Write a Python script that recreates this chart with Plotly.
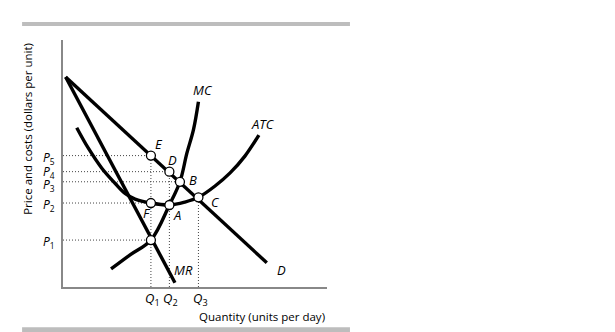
import plotly.graph_objects as go

# ---- data (in chart units) ----
X_MAX = 10.0
Y_MAX = 10.0

demand_q = [0.10, 7.72]
demand_p = [8.50, 0.98]

mr_q = [0.10, 4.24]
mr_p = [8.50, 0.17]

mc_q = [1.82, 2.54, 3.33, 4.03, 4.43, 4.69, 4.94, 5.13]
mc_p = [0.73, 1.30, 1.90, 3.32, 4.26, 5.41, 6.36, 7.50]

atc_q = [0.52, 0.96, 1.47, 1.97, 2.35, 2.73, 3.33, 4.03, 4.62, 5.13, 5.76, 6.33, 6.89, 7.42]
atc_p = [6.45, 5.62, 4.81, 4.20, 3.79, 3.56, 3.40, 3.32, 3.44, 3.63, 4.09, 4.62, 5.30, 6.15]

# key points
pt_names = ["E", "D", "B", "C", "F", "A", "G"]
pt_q = [3.33, 4.03, 4.43, 5.13, 3.33, 4.03, 3.33]
pt_p = [5.32, 4.67, 4.26, 3.63, 3.40, 3.32, 1.90]

# price levels and where their dotted guides end
price_labels = ["5", "4", "3", "2", "1"]
price_vals = [5.32, 4.67, 4.26, 3.40, 1.90]
price_guide_end = [3.33, 4.03, 4.43, 3.33, 3.33]

# quantity levels and where their dotted guides start
qty_labels = ["1", "2", "3"]
qty_vals = [3.33, 4.03, 5.13]
qty_guide_top = [5.32, 4.67, 3.63]

# point label positions
lab_text = ["E", "D", "B", "C", "F", "A", "MC", "ATC", "MR", "D"]
lab_q = [3.65, 4.16, 4.91, 5.76, 3.19, 4.33, 5.31, 7.58, 4.55, 8.28]
lab_p = [5.78, 5.14, 4.33, 3.45, 2.98, 2.91, 7.98, 6.60, 0.69, 0.69]

FONT = "Open Sans"
DOT = "1px,2px"
fig = go.Figure()

# dotted guides
for v, e in zip(price_vals, price_guide_end):
    fig.add_trace(go.Scatter(x=[0, e], y=[v, v], mode="lines",
                             line=dict(color="#444", width=1, dash=DOT),
                             hoverinfo="skip", showlegend=False))
for q, t in zip(qty_vals, qty_guide_top):
    fig.add_trace(go.Scatter(x=[q, q], y=[0, t], mode="lines",
                             line=dict(color="#444", width=1, dash=DOT),
                             hoverinfo="skip", showlegend=False))

# curves
LW = 3.4
fig.add_trace(go.Scatter(x=demand_q, y=demand_p, mode="lines",
                         line=dict(color="black", width=LW), showlegend=False))
fig.add_trace(go.Scatter(x=mr_q, y=mr_p, mode="lines",
                         line=dict(color="black", width=LW), showlegend=False))
fig.add_trace(go.Scatter(x=mc_q, y=mc_p, mode="lines",
                         line=dict(color="black", width=LW, shape="spline", smoothing=1.0),
                         showlegend=False))
fig.add_trace(go.Scatter(x=atc_q, y=atc_p, mode="lines",
                         line=dict(color="black", width=LW, shape="spline", smoothing=1.0),
                         showlegend=False))

# points
fig.add_trace(go.Scatter(x=pt_q, y=pt_p, mode="markers", text=pt_names,
                         marker=dict(size=9, color="white",
                                     line=dict(color="black", width=1.3)),
                         showlegend=False))

ann = []
for t, q, p in zip(lab_text, lab_q, lab_p):
    ann.append(dict(x=q / X_MAX, y=p / Y_MAX, xref="paper", yref="paper",
                    xanchor="center", yanchor="middle",
                    text=f"<i>{t}</i>", showarrow=False,
                    font=dict(family=FONT, size=13, color="black")))
p_nudge = [0.0, 0.007, -0.007, 0.0, 0.0]
for t, v, n in zip(price_labels, price_vals, p_nudge):
    ann.append(dict(x=-0.022, y=v / Y_MAX - 0.008 + n, xref="paper", yref="paper",
                    xanchor="right", yanchor="middle",
                    text=f"<i>P</i><sub>{t}</sub>", showarrow=False,
                    font=dict(family=FONT, size=12, color="black")))
for t, q in zip(qty_labels, qty_vals):
    ann.append(dict(x=q / X_MAX + 0.006, y=-0.048, xref="paper", yref="paper",
                    xanchor="center", yanchor="middle",
                    text=f"<i>Q</i><sub>{t}</sub>", showarrow=False,
                    font=dict(family=FONT, size=13, color="black")))
ann.append(dict(x=1.0, y=-0.118, xref="paper", yref="paper", xanchor="right",
                yanchor="middle", text="Quantity (units per day)", showarrow=False,
                font=dict(family=FONT, size=11.5, color="black")))
ann.append(dict(x=-0.133, y=0.64, xref="paper", yref="paper", textangle=-90,
                xanchor="center", yanchor="middle",
                text="Price and costs (dollars per unit)", showarrow=False,
                font=dict(family=FONT, size=11.5, color="black")))

shapes = [
    dict(type="rect", xref="paper", yref="paper", x0=-0.155, x1=1.087,
         y0=1.057, y1=1.073, fillcolor="#bdbdbd", line=dict(width=0), layer="below"),
    dict(type="rect", xref="paper", yref="paper", x0=-0.155, x1=1.087,
         y0=-0.185, y1=-0.163, fillcolor="#bdbdbd", line=dict(width=0), layer="below"),
]

fig.update_layout(
    width=615, height=332,
    margin=dict(l=63, r=288, t=40, b=45),
    paper_bgcolor="white", plot_bgcolor="white",
    annotations=ann, shapes=shapes,
    xaxis=dict(range=[0, X_MAX], showgrid=False, zeroline=False, showticklabels=False,
               ticks="", showline=True, linecolor="#888", linewidth=1.5),
    yaxis=dict(range=[0, Y_MAX], showgrid=False, zeroline=False, showticklabels=False,
               ticks="", showline=True, linecolor="#888", linewidth=1.5),
)

fig.write_html("out.html")
